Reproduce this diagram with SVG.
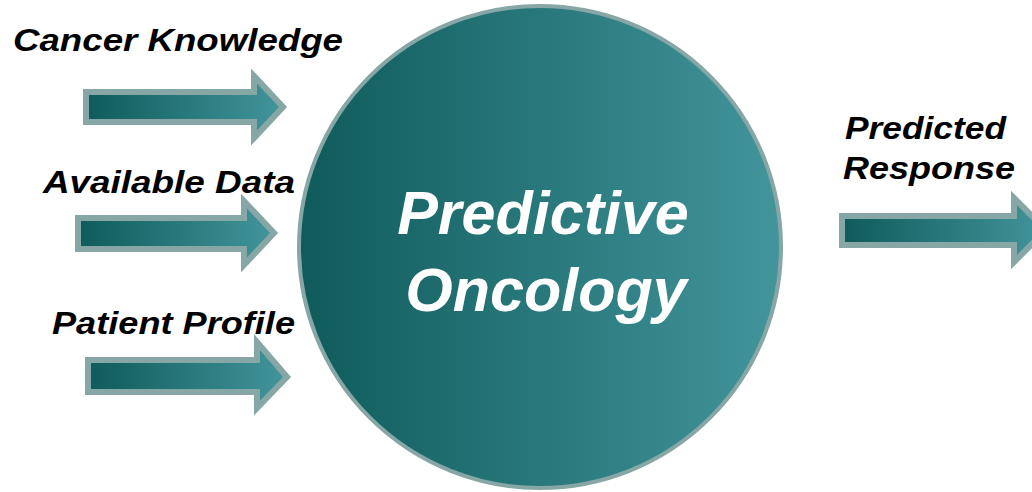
<svg xmlns="http://www.w3.org/2000/svg" width="1032" height="492" viewBox="0 0 1032 492">
  <defs>
    <linearGradient id="tealFill" x1="0" y1="0" x2="1" y2="0">
      <stop offset="0" stop-color="#0f5b5b"/>
      <stop offset="1" stop-color="#42959b"/>
    </linearGradient>
    <style>
      .arrow { fill: url(#tealFill); stroke: #87a6a6; stroke-width: 6; stroke-linejoin: miter; }
      .hub { fill: url(#tealFill); stroke: #87a6a6; stroke-width: 4; }
      .label { font-family: "Liberation Sans", Arial, sans-serif; font-weight: bold; font-style: italic; font-size: 32px; fill: #000; }
      .title { font-family: "Liberation Sans", Arial, sans-serif; font-weight: bold; font-style: italic; font-size: 61px; fill: #fff; text-anchor: middle; }
    </style>
  </defs>
  <rect width="1032" height="492" fill="#fff"/>

  <g id="hub">
    <circle class="hub" cx="540" cy="247" r="241"/>
    <text class="title" x="543" y="234">Predictive</text>
    <text class="title" x="546" y="311">Oncology</text>
  </g>

  <g id="connectors">
    <path class="arrow" d="M86,92 H254 V76 L283,107 L254,138 V122 H86 Z"/>
    <path class="arrow" d="M78,218 H244 V201 L274,233 L244,265 V249 H78 Z"/>
    <path class="arrow" d="M88,360 H257 V342 L287,377 L257,408 V392 H88 Z"/>
    <path class="arrow" d="M842,216 H1014 V198 L1046,230 L1014,262 V245 H842 Z"/>
  </g>

  <g id="cancer-knowledge">
    <text class="label" x="13" y="51" textLength="330" lengthAdjust="spacingAndGlyphs">Cancer Knowledge</text>
  </g>
  <g id="available-data">
    <text class="label" x="43" y="193" textLength="252" lengthAdjust="spacingAndGlyphs">Available Data</text>
  </g>
  <g id="patient-profile">
    <text class="label" x="52" y="334" textLength="243" lengthAdjust="spacingAndGlyphs">Patient Profile</text>
  </g>
  <g id="predicted-response">
    <text class="label" x="845" y="139" textLength="161" lengthAdjust="spacingAndGlyphs">Predicted</text>
    <text class="label" x="843" y="179" textLength="172" lengthAdjust="spacingAndGlyphs">Response</text>
  </g>
</svg>
